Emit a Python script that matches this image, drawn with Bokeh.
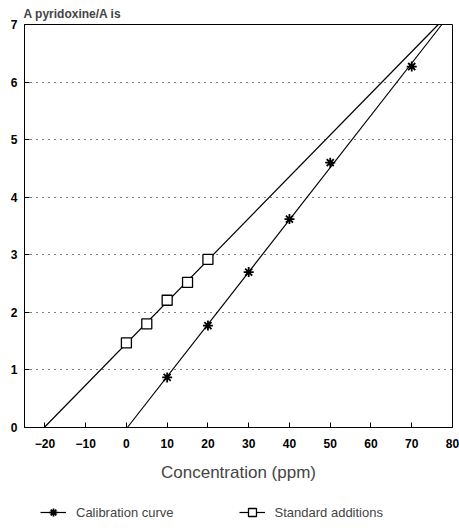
import numpy as np
from bokeh.plotting import figure
from bokeh.layouts import column
from bokeh.models import Legend, LegendItem, FixedTicker, Range1d
from bokeh.embed import file_html
from bokeh.resources import INLINE

# Data
cal_x = [10, 20, 30, 40, 50, 70]
cal_y = [0.87, 1.77, 2.70, 3.62, 4.60, 6.27]
std_x = [0, 5, 10, 15, 20]
std_y = [1.47, 1.80, 2.21, 2.52, 2.92]
x_ticks = [-20, -10, 0, 10, 20, 30, 40, 50, 60, 70, 80]
y_ticks = [0, 1, 2, 3, 4, 5, 6, 7]
y_max = 7

FONT = "Liberation Sans"

p = figure(width=459, height=490, output_backend="svg", toolbar_location=None,
           x_range=Range1d(-25, 80), y_range=Range1d(0, y_max),
           min_border_left=24, min_border_right=7, min_border_top=24,
           min_border_bottom=63,
           title="A pyridoxine/A is")

p.title.text_font = FONT
p.title.text_font_size = "12px"
p.title.text_font_style = "bold"
p.title.align = "left"
p.title.offset = -1
p.title.standoff = 8

p.outline_line_color = "black"
p.outline_line_width = 1
p.xgrid.grid_line_color = None
p.ygrid.grid_line_color = "black"
p.ygrid.grid_line_dash = "1 5"
p.ygrid.grid_line_width = 1

p.xaxis.ticker = FixedTicker(ticks=x_ticks)
p.yaxis.ticker = FixedTicker(ticks=y_ticks)
for ax in (p.xaxis, p.yaxis):
    ax.major_tick_in = 5
    ax.major_tick_out = 0
    ax.minor_tick_in = 0
    ax.minor_tick_out = 0
    ax.axis_line_color = "black"
    ax.major_label_text_font = FONT
    ax.major_label_text_font_size = "12px"
    ax.major_label_text_font_style = "bold"
    ax.major_label_text_color = "black"
p.yaxis.major_label_standoff = 7
p.xaxis.major_label_standoff = 11
p.xaxis.axis_label = "Concentration (ppm)"
p.xaxis.axis_label_text_font = FONT
p.xaxis.axis_label_text_font_size = "17px"
p.xaxis.axis_label_text_font_style = "normal"
p.xaxis.axis_label_standoff = 12

# least-squares lines, extrapolated from y=0 to y=7
def fit_line(xs, ys):
    m, b = np.polyfit(xs, ys, 1)
    return [(0 - b) / m, (y_max - b) / m], [0, y_max]

cx, cy = fit_line(cal_x, cal_y)
sx, sy = fit_line(std_x, std_y)

line_kw = dict(line_color="black", line_width=1.2)
cal_kw = dict(marker="asterisk", size=10, line_color="black", line_width=1.8)
std_kw = dict(marker="square", size=10, line_color="black", fill_color="white", line_width=1.3)

p.line(cx, cy, **line_kw)
p.scatter(cal_x, cal_y, **cal_kw)
p.line(sx, sy, **line_kw)
p.scatter(std_x, std_y, **std_kw)

# legend strip below the plot (its renderers hold the same data, kept off-view)
p2 = figure(width=459, height=40, output_backend="svg", toolbar_location=None,
            x_range=Range1d(1000, 1001), y_range=Range1d(1000, 1001), min_border=0,
            x_axis_location=None, y_axis_location=None, outline_line_color=None)
p2.grid.visible = False
l1 = p2.line(cx, cy, **line_kw)
m1 = p2.scatter(cal_x, cal_y, **cal_kw)
l2 = p2.line(sx, sy, **line_kw)
m2 = p2.scatter(std_x, std_y, **std_kw)

legend = Legend(items=[LegendItem(label="Calibration curve", renderers=[l1, m1]),
                       LegendItem(label="Standard additions", renderers=[l2, m2])],
                orientation="horizontal", location=(16, 8), spacing=65,
                border_line_color=None, background_fill_alpha=0,
                label_text_font=FONT, label_text_font_size="13px",
                label_standoff=10, glyph_width=26, margin=0, padding=2)
p2.add_layout(legend, "center")

open("out.html", "w").write(file_html(column(p, p2), INLINE))
